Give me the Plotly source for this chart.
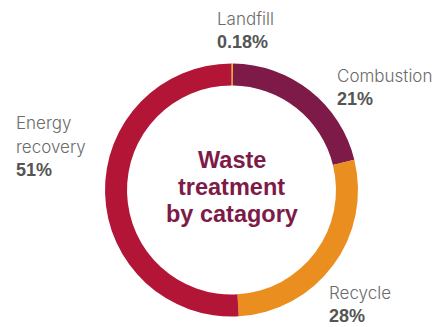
import plotly.graph_objects as go

# Waste treatment shares (percent)
categories = ["Landfill", "Combustion", "Recycle", "Energy recovery"]
shares = [0.18, 21, 28, 51]
share_labels = ["0.18%", "21%", "28%", "51%"]
label_lines = [["Landfill"], ["Combustion"], ["Recycle"], ["Energy", "recovery"]]
center_title = ["Waste", "treatment", "by catagory"]

slice_colors = ["#F4C20D", "#7E1A47", "#EB8E20", "#B31536"]

W, H = 448, 327

# left edge and first baseline (pixels) of each outside label block
label_pos = [(216, 25), (336, 82), (328, 299), (15, 129)]
LINE_GAP = 24
NAME_SIZE = 17
PCT_SIZE = 18
TITLE_SIZE = 23.5
title_baselines = [168, 195, 222]

fig = go.Figure(
    go.Pie(
        labels=categories,
        values=shares,
        hole=0.826,
        sort=False,
        direction="clockwise",
        rotation=0,
        marker=dict(colors=slice_colors, line=dict(width=0)),
        textinfo="none",
        hoverinfo="label+percent",
        showlegend=False,
        domain=dict(x=[105 / W, 358 / W], y=[1 - 317 / H, 1 - 63 / H]),
    )
)


def line_note(text, px, baseline, size, font, anchor="left"):
    mid = baseline - 0.35 * size
    return dict(
        text=text,
        x=px / W,
        y=1 - mid / H,
        xref="paper",
        yref="paper",
        xanchor=anchor,
        yanchor="middle",
        showarrow=False,
        borderpad=0,
        font=dict(size=size, **font),
    )


name_font = dict(family="Inter", color="#6B6B6B", weight=300)
pct_font = dict(family="Liberation Sans", color="#555555", weight=700)

annotations = []
for lines, pct, (px, base) in zip(label_lines, share_labels, label_pos):
    for i, ln in enumerate(lines):
        annotations.append(line_note(ln, px, base + i * LINE_GAP, NAME_SIZE, name_font))
    annotations.append(
        line_note(pct, px, base + len(lines) * LINE_GAP - 1, PCT_SIZE, pct_font)
    )

title_font = dict(family="Liberation Sans", color="#7E1A47", weight=700)
for ln, base in zip(center_title, title_baselines):
    annotations.append(line_note(ln, 231.5, base, TITLE_SIZE, title_font, "center"))

fig.update_layout(
    width=W,
    height=H,
    margin=dict(l=0, r=0, t=0, b=0),
    paper_bgcolor="white",
    plot_bgcolor="white",
    annotations=annotations,
)

fig.write_html("out.html")
